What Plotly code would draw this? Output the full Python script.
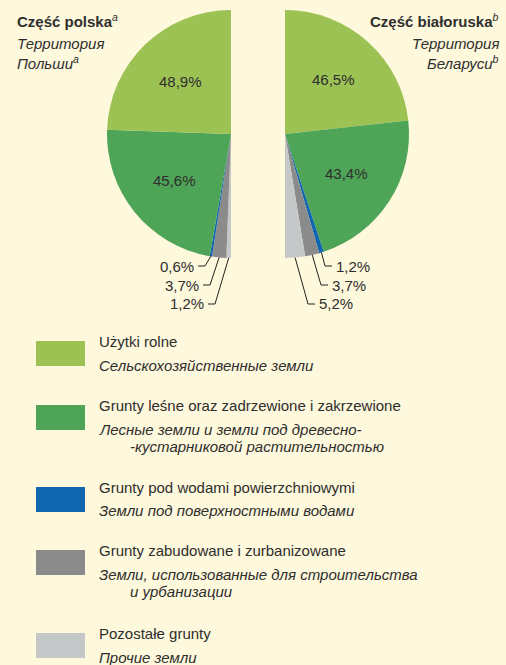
import math
import plotly.graph_objects as go

W, H = 506, 665
BG = '#FEF8DC'
TXT = '#2E2E2E'
FONT = 'Liberation Sans, Arial, sans-serif'

# ---------------- data ----------------
categories_pl = ['Użytki rolne',
                 'Grunty leśne oraz zadrzewione i zakrzewione',
                 'Grunty pod wodami powierzchniowymi',
                 'Grunty zabudowane i zurbanizowane',
                 'Pozostałe grunty']
categories_ru = [['Сельскохозяйственные земли'],
                 ['Лесные земли и земли под древесно-', '-кустарниковой растительностью'],
                 ['Земли под поверхностными водами'],
                 ['Земли, использованные для строительства', 'и урбанизации'],
                 ['Прочие земли']]
values_polish = [48.9, 45.6, 0.6, 3.7, 1.2]
values_belarus = [46.5, 43.4, 1.2, 3.7, 5.2]
colors = ['#9DC254', '#4EA457', '#1067AF', '#8B8B8B', '#C5C8C8']

title_pl = ['Część polska', 'Территория', 'Польши', 'a']
title_by = ['Część białoruska', 'Территория', 'Беларуси', 'b']

# ---------------- layout helpers ----------------
def px(x):
    return x / W


def py(y):
    return 1 - y / H


R = 124
pies = [
    dict(values=values_polish, cx=231, cy=134, sign=-1, elbow_dx=[-26, -21, -16]),
    dict(values=values_belarus, cx=285, cy=134, sign=1, elbow_dx=[40, 36, 23]),
]
elbow_dy = [132, 151, 170]
CLEAR = 'rgba(0,0,0,0)'

fig = go.Figure()
annotations = []
shapes = []


def fmt(v):
    return f"{v:.1f}".replace('.', ',') + '%'


for p in pies:
    vals = p['values']
    total = sum(vals)
    if p['sign'] > 0:
        pv = vals + [total]
        pc = colors + [CLEAR]
    else:
        # counter-clockwise half: draw clockwise starting with the empty half
        pv = [total] + vals[::-1]
        pc = [CLEAR] + colors[::-1]
    fig.add_trace(go.Pie(
        values=pv,
        marker=dict(colors=pc, line=dict(width=0)),
        sort=False, direction='clockwise', rotation=0,
        textinfo='none', hoverinfo='skip', showlegend=False,
        domain=dict(x=[px(p['cx'] - R), px(p['cx'] + R)],
                    y=[py(p['cy'] + R), py(p['cy'] - R)]),
    ))
    cum = 0
    small_i = 0
    for i, v in enumerate(vals):
        mid = (cum + v / 2) / total * math.pi  # half circle
        cum += v
        dx = p['sign'] * math.sin(mid)
        dy = -math.cos(mid)
        if v > 10:
            r = 0.59 * R
            annotations.append(dict(
                x=px(p['cx'] + dx * r), y=py(p['cy'] + dy * r), xref='paper', yref='paper',
                text=fmt(v), showarrow=False, font=dict(size=15, color=TXT, family=FONT),
                xanchor='center', yanchor='middle'))
        else:
            ax, ay = p['cx'] + dx * R, p['cy'] + dy * R
            ex, ey = p['cx'] + p['elbow_dx'][small_i], p['cy'] + elbow_dy[small_i]
            hx = ex + 7 * p['sign']
            shapes.append(dict(
                type='path', xref='paper', yref='paper',
                path=f"M {px(ax)},{py(ay)} L {px(ex)},{py(ey)} L {px(hx)},{py(ey)}",
                line=dict(color='#222222', width=1)))
            annotations.append(dict(
                x=px(hx + 2 * p['sign']), y=py(ey), xref='paper', yref='paper',
                text=fmt(v), showarrow=False, font=dict(size=15, color=TXT, family=FONT),
                xanchor='left' if p['sign'] > 0 else 'right', yanchor='middle'))
            small_i += 1

# ---------------- titles ----------------
for t, x, anchor in [(title_pl, 15, 'left'), (title_by, 501, 'right')]:
    annotations.append(dict(x=px(x), y=py(20), xref='paper', yref='paper',
                            text=f"<b>{t[0]}</b><sup><i>{t[3]}</i></sup>", showarrow=False,
                            font=dict(size=15, color=TXT, family=FONT),
                            xanchor=anchor, yanchor='middle'))
    annotations.append(dict(x=px(x), y=py(44), xref='paper', yref='paper',
                            text=f"<i>{t[1]}</i>", showarrow=False,
                            font=dict(size=15, color=TXT, family=FONT),
                            xanchor=anchor, yanchor='middle'))
    annotations.append(dict(x=px(x), y=py(63), xref='paper', yref='paper',
                            text=f"<i>{t[2]}<sup>{t[3]}</sup></i>", showarrow=False,
                            font=dict(size=15, color=TXT, family=FONT),
                            xanchor=anchor, yanchor='middle'))

# ---------------- legend ----------------
rows = [341, 405, 487, 550, 633]
for i, row in enumerate(rows):
    shapes.append(dict(type='rect', xref='paper', yref='paper',
                       x0=px(36), x1=px(85), y0=py(row), y1=py(row + 25),
                       fillcolor=colors[i], line=dict(width=0)))
    annotations.append(dict(x=px(97), y=py(row), xref='paper', yref='paper',
                            text=categories_pl[i], showarrow=False,
                            font=dict(size=15, color=TXT, family=FONT),
                            xanchor='left', yanchor='middle'))
    for j, line in enumerate(categories_ru[i]):
        annotations.append(dict(x=px(97 if j == 0 else 128), y=py(row + 24 + 17 * j),
                                xref='paper', yref='paper',
                                text=f"<i>{line}</i>", showarrow=False,
                                font=dict(size=15, color=TXT, family=FONT),
                                xanchor='left', yanchor='middle'))

fig.update_layout(
    width=W, height=H, margin=dict(l=0, r=0, t=0, b=0),
    paper_bgcolor=BG, plot_bgcolor=BG,
    annotations=annotations, shapes=shapes,
)
fig.write_html("out.html", config={'displayModeBar': False},
               post_script="document.body.style.margin='0';document.body.style.overflow='hidden';")
